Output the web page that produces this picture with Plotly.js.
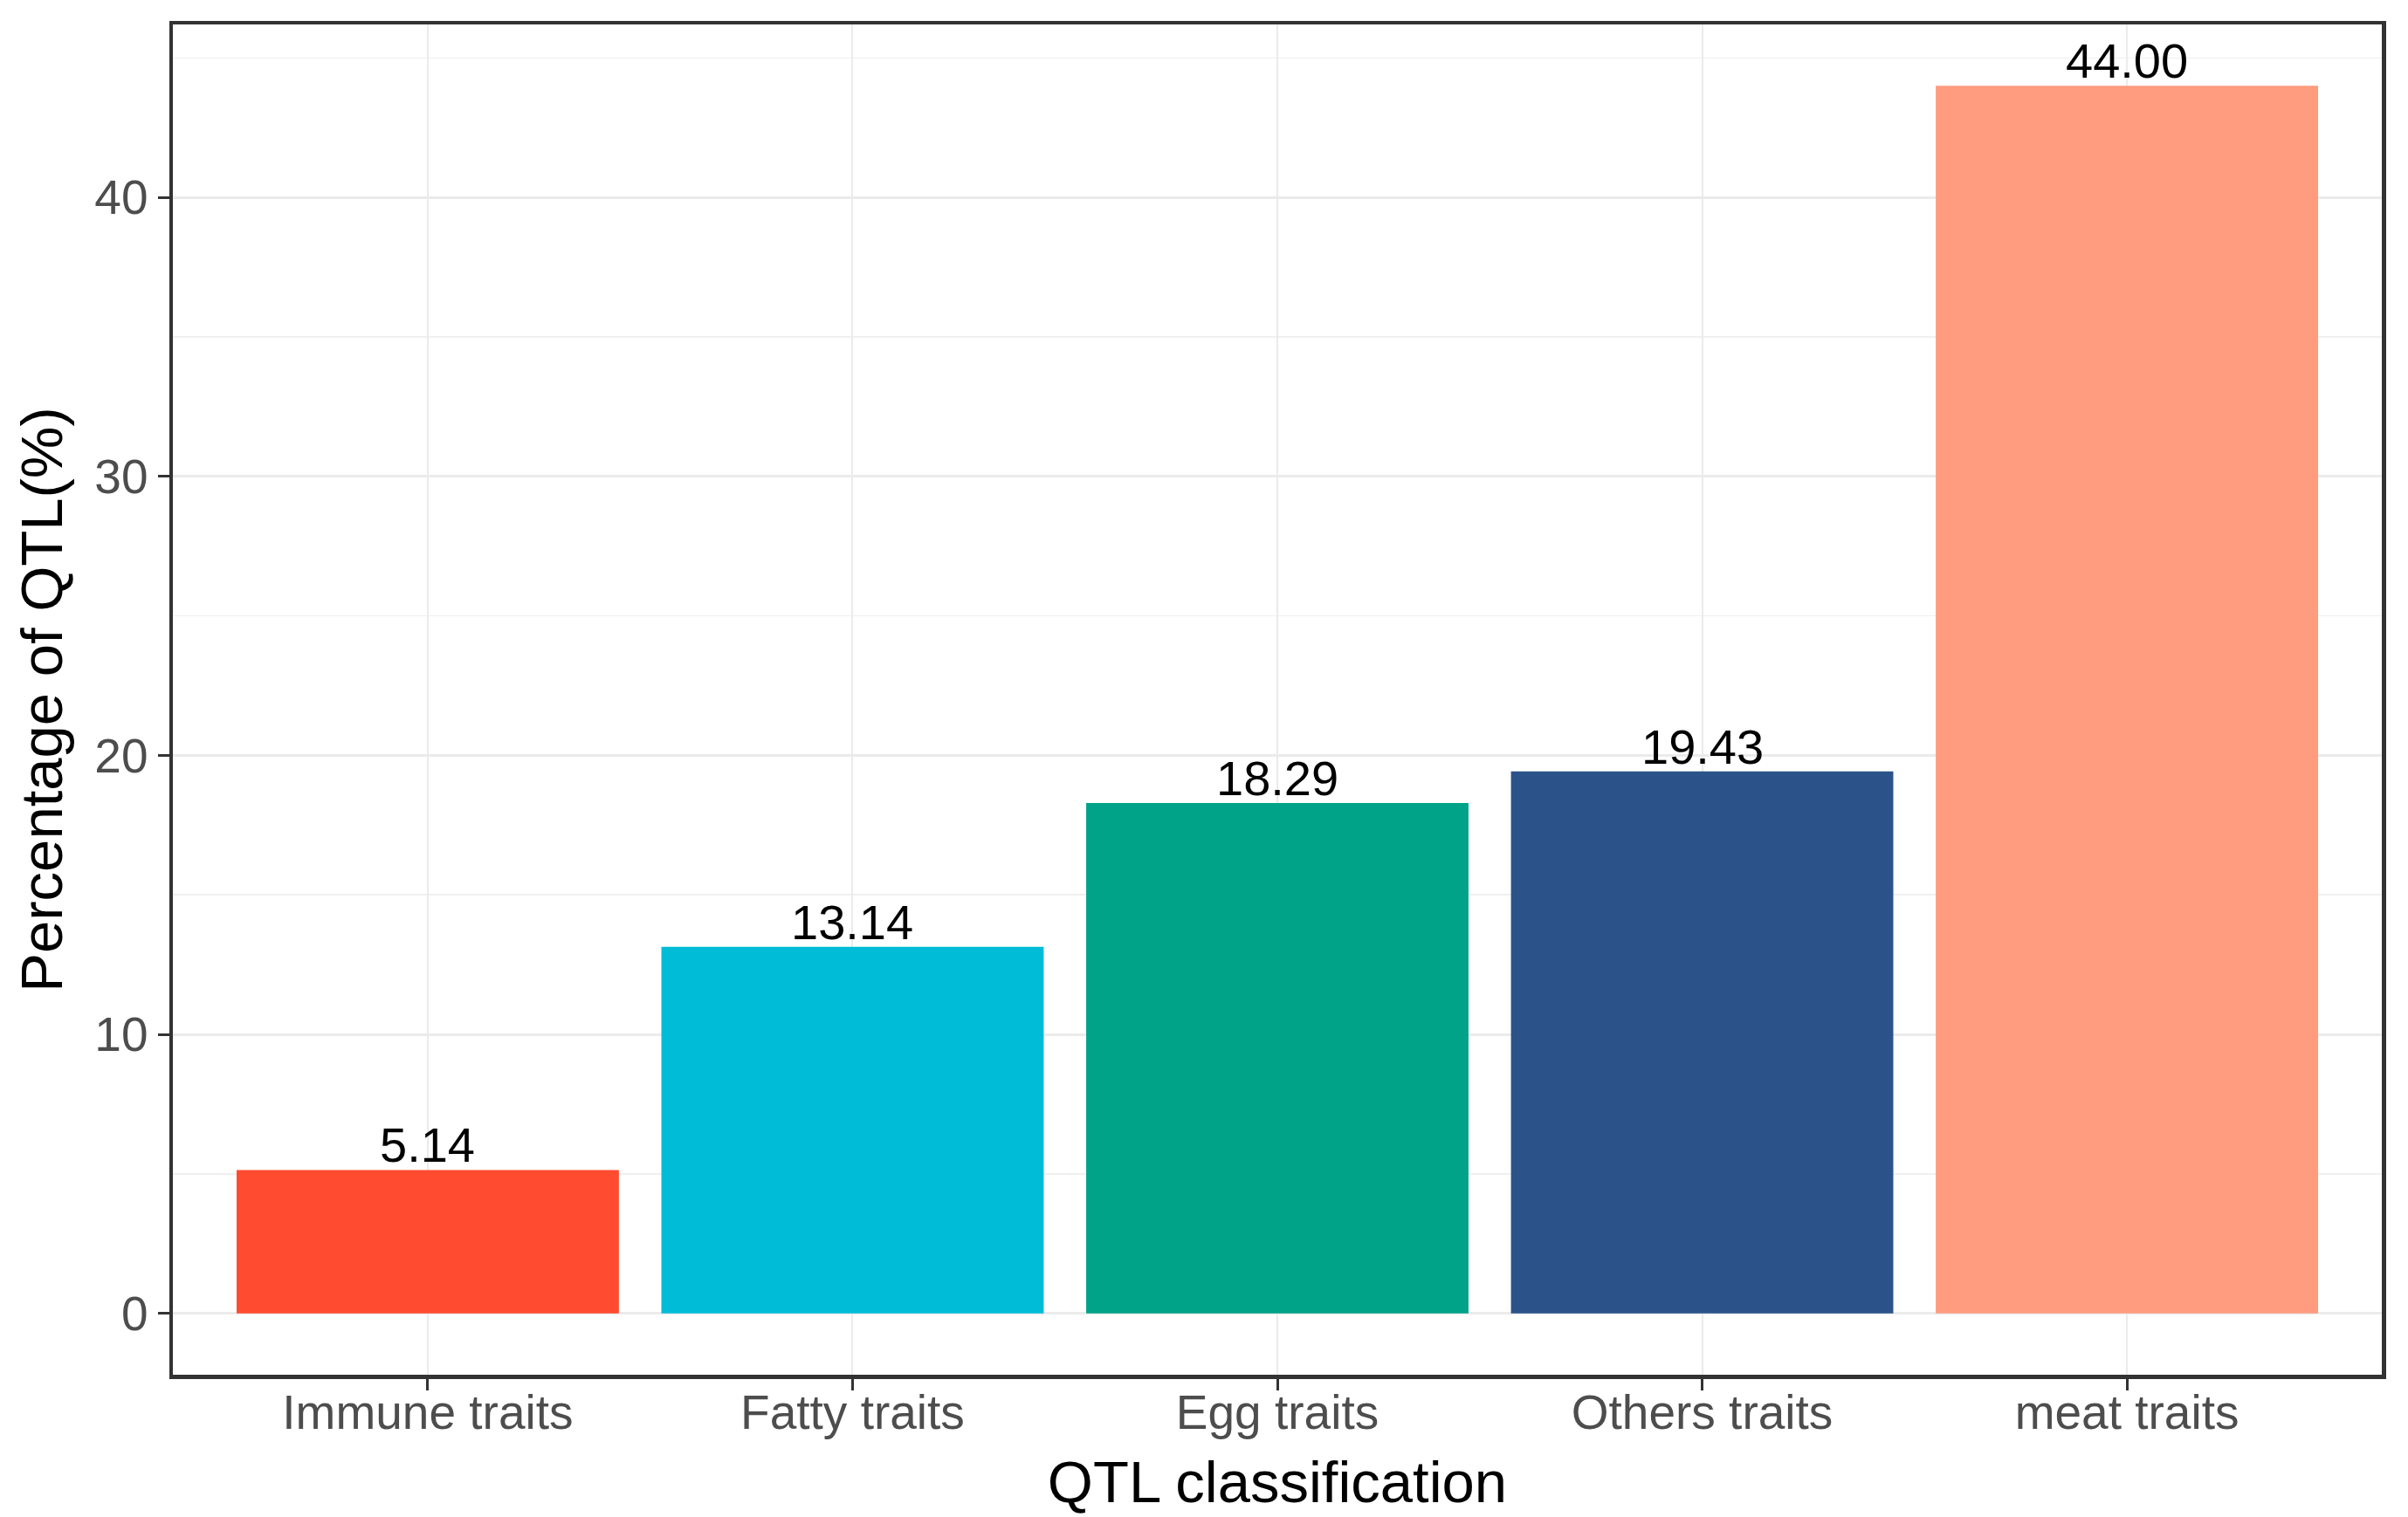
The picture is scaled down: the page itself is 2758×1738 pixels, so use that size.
<!DOCTYPE html>
<html>
<head>
<meta charset="utf-8">
<script src="https://cdn.plot.ly/plotly-3.0.1.min.js"></script>
<style>html,body{margin:0;padding:0;background:#fff;}#chart{width:2758px;height:1738px;}</style>
</head>
<body>
<div id="chart"></div>
<script>
const categories = ["Immune traits", "Fatty traits", "Egg traits", "Others traits", "meat traits"];
const percentages = [5.14, 13.14, 18.29, 19.43, 44.00];
const barColors = ["#FF4B30", "#00BCD6", "#00A388", "#2B5389", "#FF9B7F"];
const yTickVals = [0, 10, 20, 30, 40];
const yTickText = ["0", "10", "20", "30", "40"];

const FONT = "Liberation Sans, Arial, Helvetica, sans-serif";

const trace = {
  type: "bar",
  x: categories,
  y: percentages,
  width: 0.9,
  marker: { color: barColors, line: { width: 0 } },
  hoverinfo: "skip"
};

const valueLabels = categories.map((c, i) => ({
  x: c,
  y: percentages[i],
  xref: "x",
  yref: "y",
  text: percentages[i].toFixed(2),
  showarrow: false,
  xanchor: "center",
  yanchor: "bottom",
  borderpad: 0,
  yshift: -4,
  font: { family: FONT, size: 56, color: "#000000" }
}));

const layout = {
  width: 2758,
  height: 1738,
  margin: { l: 198, r: 30, t: 28, b: 163, pad: 0 },
  paper_bgcolor: "#ffffff",
  plot_bgcolor: "#ffffff",
  showlegend: false,
  font: { family: FONT },
  annotations: valueLabels,
  xaxis: {
    type: "category",
    range: [-0.6, 4.6],
    showgrid: true,
    gridcolor: "#ebebeb",
    gridwidth: 2,
    showline: true,
    mirror: true,
    linecolor: "#333333",
    linewidth: 4.5,
    ticks: "outside",
    ticklen: 13,
    tickwidth: 3,
    tickcolor: "#333333",
    ticklabelstandoff: -22,
    tickfont: { family: FONT, size: 55, color: "#4d4d4d" },
    zeroline: false,
    automargin: false,
    title: { text: "QTL classification", font: { family: FONT, size: 67, color: "#000000" }, standoff: 28 }
  },
  yaxis: {
    range: [-2.2, 46.2],
    tickvals: yTickVals,
    ticktext: yTickText,
    showgrid: true,
    gridcolor: "#ebebeb",
    gridwidth: 3,
    minor: { dtick: 5, tick0: 5, showgrid: true, gridcolor: "#f0f0f0", gridwidth: 1.5, ticks: "" },
    showline: true,
    mirror: true,
    linecolor: "#333333",
    linewidth: 4.5,
    ticks: "outside",
    ticklen: 13,
    tickwidth: 3,
    tickcolor: "#333333",
    tickfont: { family: FONT, size: 55, color: "#4d4d4d" },
    zeroline: false,
    automargin: false,
    title: { text: "Percentage of QTL(%)", font: { family: FONT, size: 67, color: "#000000" }, standoff: 16 }
  }
};

Plotly.newPlot("chart", [trace], layout, { displayModeBar: false, staticPlot: true });
</script>
</body>
</html>
